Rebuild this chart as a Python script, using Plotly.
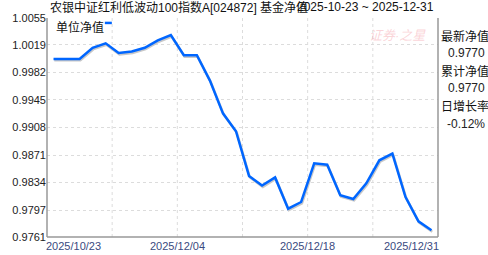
import plotly.graph_objects as go

dates = ["2025-10-23", "2025-10-31", "2025-11-07", "2025-11-14", "2025-11-21",
         "2025-11-27", "2025-11-28", "2025-12-01", "2025-12-02", "2025-12-03",
         "2025-12-04", "2025-12-05", "2025-12-08", "2025-12-09", "2025-12-10",
         "2025-12-11", "2025-12-12", "2025-12-15", "2025-12-16", "2025-12-17",
         "2025-12-18", "2025-12-19", "2025-12-22", "2025-12-23", "2025-12-24",
         "2025-12-25", "2025-12-26", "2025-12-29", "2025-12-30", "2025-12-31"]
nav = [1.0000, 1.0000, 1.0000, 1.0015, 1.0021, 1.0008, 1.0010, 1.0015, 1.0025, 1.0032,
       1.0005, 1.0005, 0.9971, 0.9927, 0.9903, 0.9843, 0.9830, 0.9841, 0.9799, 0.9808,
       0.9860, 0.9858, 0.9817, 0.9812, 0.9833, 0.9864, 0.9873, 0.9815, 0.9782, 0.9770]
y_ticks = ["0.9761", "0.9797", "0.9834", "0.9871", "0.9908", "0.9945", "0.9982", "1.0019", "1.0055"]
x_labels = ["2025/10/23", "2025/12/04", "2025/12/18", "2025/12/31"]
title_text = "农银中证红利低波动100指数A[024872] 基金净值"
range_text = "2025-10-23 ~ 2025-12-31"
series_name = "单位净值"
side_labels = ["最新净值", "0.9770", "累计净值", "0.9770", "日增长率", "-0.12%"]

FONT = "Liberation Sans, Arial, Noto Sans CJK SC, sans-serif"
ylo, yhi = float(y_ticks[0]), float(y_ticks[-1])
n = len(dates)
xr = [-0.5, n - 0.5]
px_x = (xr[1] - xr[0]) / 392.0
px_y = (yhi - ylo) / 222.0

fig = go.Figure()
# shadow (drawn first, on a slightly shifted overlay axis pair)
fig.add_trace(go.Scatter(x=dates, y=nav, mode="lines", xaxis="x2", yaxis="y2",
                         line=dict(color="#c8c8c8", width=2.5), hoverinfo="skip",
                         showlegend=False))
# main line on top
fig.add_trace(go.Scatter(x=dates, y=nav, mode="lines", name=series_name, xaxis="x3", yaxis="y3",
                         line=dict(color="#0066ff", width=2.5), showlegend=False))

fig.update_layout(
    width=488, height=255,
    margin=dict(l=46, r=50, t=18, b=15),
    paper_bgcolor="white", plot_bgcolor="white",
    font=dict(family=FONT, size=11, color="#222"),
    xaxis=dict(type="category", categoryarray=dates, range=xr, showgrid=False,
               showticklabels=False, zeroline=False, showline=False, ticks=""),
    xaxis2=dict(type="category", range=[xr[0] - 0.8 * px_x, xr[1] - 0.8 * px_x],
                overlaying="x", visible=False),
    xaxis3=dict(type="category", range=xr, overlaying="x", visible=False),
    yaxis=dict(range=[ylo, yhi], tickvals=[float(t) for t in y_ticks], ticktext=y_ticks,
               showgrid=True, gridcolor="#dcdcdc", griddash="3px,3px", zeroline=False,
               showline=False, ticks="", tickfont=dict(size=11, color="#222")),
    yaxis2=dict(range=[ylo + 1.4 * px_y, yhi + 1.4 * px_y], overlaying="y", visible=False),
    yaxis3=dict(range=[ylo, yhi], overlaying="y", visible=False),
)

# vertical grid lines
for k in range(1, 6):
    xv = xr[0] + k * (n / 6.0)
    fig.add_shape(type="line", xref="x", yref="paper", x0=xv, x1=xv, y0=0, y1=1,
                  line=dict(color="#dcdcdc", width=1, dash="3px,3px"), layer="below")
# axis frame lines
fig.add_shape(type="line", xref="paper", yref="paper", x0=0, x1=0, y0=0, y1=1,
              line=dict(color="#999", width=1.5))
fig.add_shape(type="line", xref="paper", yref="paper", x0=0, x1=1, y0=0, y1=0,
              line=dict(color="#999", width=1.5))
fig.add_shape(type="line", xref="paper", yref="paper", x0=1, x1=1, y0=0, y1=1,
              line=dict(color="#999", width=1.5))

# x labels
lab_y = -(249.5 - 240) / 222.0
label_pos = [(0, "left"), (xr[0] + 2 * n / 6.0, "center"), (xr[0] + 4 * n / 6.0, "center"), (1, "right")]
for txt, (pos, anc) in zip(x_labels, label_pos):
    if anc == "center":
        fig.add_annotation(x=pos, xref="x", y=lab_y, yref="paper", text=txt, showarrow=False,
                           xanchor=anc, yanchor="middle", font=dict(size=11, color="#3a4a80"))
    else:
        fig.add_annotation(x=pos, xref="paper", y=lab_y, yref="paper", text=txt, showarrow=False,
                           xanchor=anc, yanchor="middle", xshift=-3 if anc == "left" else 3,
                           font=dict(size=11, color="#3a4a80"))

# title and range
fig.add_annotation(x=(47 - 46) / 392.0, xref="paper", y=1 + (18 - 7) / 222.0, yref="paper",
                   text=title_text, showarrow=False, xanchor="left", yanchor="middle",
                   font=dict(size=12, color="#111"))
fig.add_annotation(x=1 + (436 - 438) / 392.0, xref="paper", y=1 + (18 - 7) / 222.0, yref="paper",
                   text=range_text, showarrow=False, xanchor="right", yanchor="middle",
                   font=dict(size=12, color="#111"))

# legend-like label
fig.add_annotation(x=(53 - 46) / 392.0, xref="paper", y=1 - (28 - 18) / 222.0, yref="paper",
                   text=series_name, showarrow=False, xanchor="left", yanchor="middle",
                   font=dict(size=12, color="#111"))
fig.add_shape(type="line", xref="paper", yref="paper",
              x0=(104 - 46) / 392.0, x1=(111 - 46) / 392.0,
              y0=1 - (23 - 18) / 222.0, y1=1 - (23 - 18) / 222.0,
              line=dict(color="#0066ff", width=2.5))

# watermark
fig.add_annotation(x=(397 - 46) / 392.0, xref="paper", y=1 - (36 - 18) / 222.0, yref="paper",
                   text="<i>证券·之星</i>", showarrow=False, xanchor="center", yanchor="middle",
                   font=dict(size=13, color="rgba(245,160,170,0.45)"))

# side panel
side_y = [36.7, 53, 72.3, 89.3, 107.5, 125]
for txt, yy in zip(side_labels, side_y):
    is_num = not any(ord(c) > 127 for c in txt)
    fig.add_annotation(x=(487 - 46) / 392.0 if is_num else (439 - 46) / 392.0, xref="paper",
                       y=1 - (yy - 18) / 222.0, yref="paper", text=txt, showarrow=False,
                       xanchor="right" if is_num else "left", yanchor="middle",
                       font=dict(size=12, color="#222" if is_num else "#111"))

fig.write_html("out.html")
